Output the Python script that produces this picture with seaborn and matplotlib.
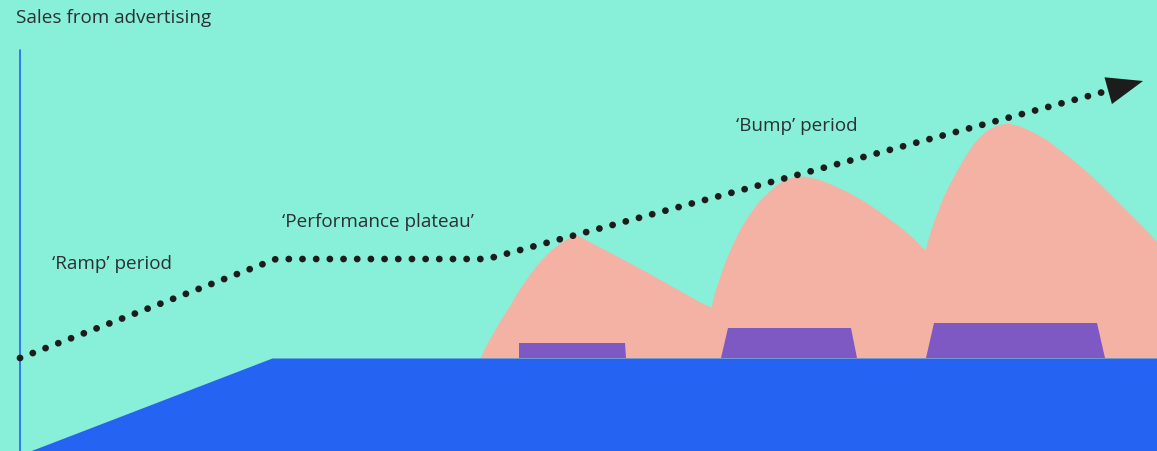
import matplotlib.pyplot as plt
import seaborn as sns

# canvas units are pixels of the picture, y grows downwards
W, H = 1157, 451

# blue base (steady sales from always-on advertising)
base_x = [30, 272, 1157]
base_top = [451, 358, 358]
base_level = 358

# salmon bumps outline
bump_x = [480, 486, 493, 501, 510, 518, 527, 535, 543, 551, 560, 568, 577, 643,
          700, 711, 715, 720, 726, 733, 741, 750, 758, 767, 775, 783, 793, 803,
          818, 833, 850, 867, 884, 900, 913, 925, 929, 933, 938, 943, 950, 957,
          965, 973, 980, 987, 997, 1007, 1020, 1033, 1047, 1060, 1073, 1087,
          1100, 1113, 1123, 1133, 1145, 1157]
bump_y = [358, 345, 333, 319, 305, 291, 278, 267, 258, 250, 243, 238, 235, 270,
          302, 307, 291, 276, 259, 243, 227, 213, 202, 193, 186, 180, 177, 176,
          179, 185, 193, 203, 215, 227, 238, 250, 236, 223, 210, 197, 183, 170,
          156, 144, 136, 130, 125, 123, 126, 132, 140, 150, 160, 172, 184, 197,
          207, 217, 229, 242]

# purple bursts (trapezoids): left bottom, left top, right top, right bottom
bursts = [
    ([519, 519, 625, 626], 343),
    ([721, 728, 851, 857], 328),
    ([926, 934, 1097, 1105], 323),
]

# dotted trend line
trend_x = [20, 276, 487, 1107]
trend_y = [358, 259, 259, 91]
arrow_tip = (1143, 81)

labels = ["Sales from advertising", "\u2018Ramp\u2019 period",
          "\u2018Performance plateau\u2019", "\u2018Bump\u2019 period"]
label_x = [16, 52, 282, 736]
label_y = [18, 264, 222, 126]

bg = "#88EFD8"
blue = "#2563F3"
salmon = "#F4B2A4"
purple = "#7E58C3"
ink = "#1c1c1c"
text_col = "#2b3034"

sns.set_theme(style="white")
plt.rcParams["font.family"] = ["Open Sans", "DejaVu Sans"]

fig = plt.figure(figsize=(W / 100, H / 100), dpi=100, facecolor=bg)
ax = fig.add_axes([0, 0, 1, 1])
ax.set_facecolor(bg)
ax.set_xlim(0, W)
ax.set_ylim(H, 0)
ax.axis("off")

ax.fill_between(bump_x, bump_y, base_level, color=salmon, lw=0, zorder=1)
for xs, top in bursts:
    ax.fill(xs, [base_level, top, top, base_level], color=purple, lw=0, zorder=2)
ax.fill_between(base_x, base_top, H, color=blue, lw=0, zorder=3)
ax.plot([trend_x[0], trend_x[0]], [50, H], color=blue, lw=1.2, zorder=3)

sns.lineplot(x=trend_x, y=trend_y, ax=ax, color=ink, lw=4.9, sort=False,
             linestyle=(0, (0.01, 2.0)), dash_capstyle="round", zorder=5)
ax.annotate("", xy=arrow_tip, xytext=(trend_x[-1], trend_y[-1]),
            arrowprops=dict(arrowstyle="-|>,head_length=1.3,head_width=0.5",
                            mutation_scale=20, color=ink, lw=0,
                            shrinkA=0, shrinkB=0), zorder=6)

for t, x, y in zip(labels, label_x, label_y):
    ax.text(x, y, t, fontsize=13.6, color=text_col, va="center", ha="left", zorder=7)

fig.savefig("out.png", dpi=100, facecolor=bg)
